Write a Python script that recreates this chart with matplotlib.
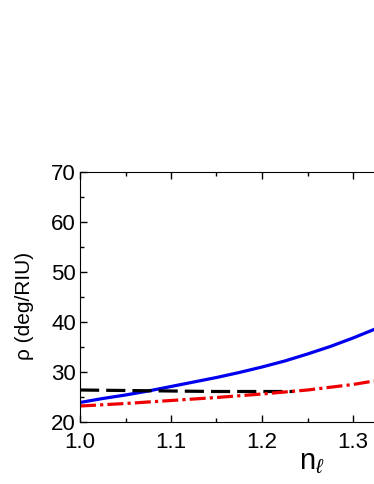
import numpy as np
import matplotlib.pyplot as plt
from matplotlib.ticker import MultipleLocator

plt.rcParams['font.family'] = ['Liberation Sans', 'DejaVu Sans']
plt.rcParams['mathtext.fontset'] = 'custom'
plt.rcParams['mathtext.it'] = 'Liberation Sans:italic'
plt.rcParams['mathtext.rm'] = 'Liberation Sans'

# blue solid curve
n_blue = [1.0, 1.025, 1.05, 1.075, 1.1, 1.125, 1.15, 1.175, 1.2, 1.225, 1.25, 1.275, 1.3, 1.323]
rho_blue = [23.9, 24.7, 25.4, 26.2, 27.1, 28.0, 28.9, 29.9, 31.0, 32.2, 33.6, 35.1, 36.8, 38.5]

# black dashed curve
n_black = [1.0, 1.05, 1.1, 1.15, 1.2, 1.235]
rho_black = [26.4, 26.3, 26.2, 26.1, 26.1, 26.1]

# red dash-dot curve
n_red = [1.0, 1.05, 1.1, 1.15, 1.2, 1.25, 1.3, 1.323]
rho_red = [23.2, 23.7, 24.3, 24.9, 25.6, 26.4, 27.5, 28.2]

xticks = [1.0, 1.1, 1.2, 1.3]
yticks = [20, 30, 40, 50, 60, 70]

fig = plt.figure(figsize=(3.74, 4.84), dpi=100)
ax = fig.add_axes([80 / 374, 62 / 484, 294 / 374, 250 / 484])

ax.plot(n_blue, rho_blue, color='#0000ee', lw=2.3)
ax.plot(n_black, rho_black, color='black', lw=2.3, ls=(0, (6, 2.2)))
ax.plot(n_red, rho_red, color='#ee0000', lw=2.3, ls=(0, (5, 1.3, 1, 1.3)))

ax.set_xlim(1.0, 1.0 + 294 / 910)
ax.set_ylim(20, 70)
ax.set_xticks(xticks)
ax.set_yticks(yticks)
ax.xaxis.set_minor_locator(MultipleLocator(0.05))
ax.yaxis.set_minor_locator(MultipleLocator(5))
ax.tick_params(which='both', direction='in', top=True, right=False, labelsize=16, width=1)
ax.tick_params(which='major', length=5)
ax.tick_params(which='minor', length=3)
ax.tick_params(axis='x', pad=7)
ax.tick_params(axis='y', pad=3)
ax.spines['right'].set_visible(False)
ax.set_xticklabels(['1.0', '1.1', '1.2', '1.3'])

fig.text(0.066, 0.368, 'ρ (deg/RIU)', rotation=90, fontsize=15, ha='center', va='center')
fig.text(0.835, 0.045, r'n$_{\ell}$', fontsize=21, ha='center', va='center')

fig.savefig('out.png', dpi=100)
